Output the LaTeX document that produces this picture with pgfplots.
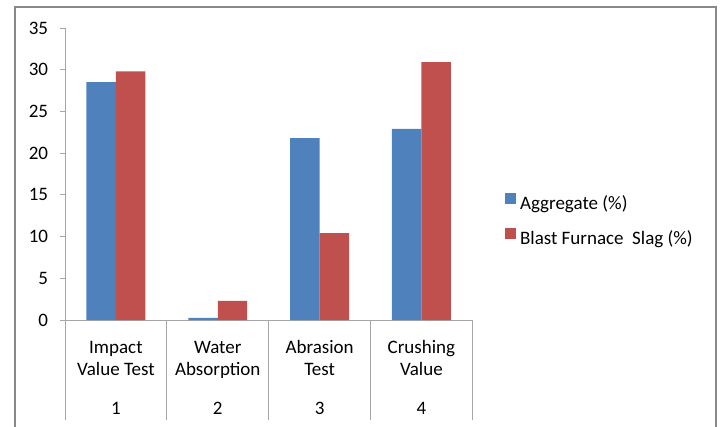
\documentclass[border=0pt]{standalone}
\usepackage{fontspec}
\setmainfont{Carlito}
\usepackage{pgfplots}
\pgfplotsset{compat=1.18}
\pgfplotsset{/pgfplots/ybar legend/.style={/pgfplots/legend image code/.code={\fill[#1] (0pt,0.5pt) rectangle (8.25pt,8.75pt);}}}
\definecolor{ablue}{HTML}{4F81BD}
\definecolor{ared}{HTML}{C0504D}
\definecolor{axgray}{HTML}{A6A6A6}
\definecolor{bordergray}{HTML}{898989}
\begin{document}
\fontsize{14.25}{16.8}\selectfont
\begin{tikzpicture}
\useasboundingbox (0,0) rectangle (540pt,319.5pt);
\draw[bordergray, line width=1.5pt] (11.25pt,-5pt) -- (11.25pt,314.25pt) -- (537pt,314.25pt) -- (537pt,-5pt);
\begin{axis}[
  at={(48.75pt,79.5pt)}, anchor=south west,
  width=305.5pt, height=219pt, scale only axis,
  xmin=0.5, xmax=4.5, ymin=0, ymax=35,
  axis lines*=left,
  axis line style={axgray, line width=0.75pt},
  ytick={0,5,...,35},
  tick align=outside,
  major tick length=3.75pt,
  ytick style={axgray, line width=0.75pt},
  xtick={1,2,3,4},
  xtick style={draw=none},
  xticklabels={{\rule{0pt}{11pt}Impact\\Value Test\\[12.4pt]1},
               {\rule{0pt}{11pt}Water\\Absorption\\[12.4pt]2},
               {\rule{0pt}{11pt}Abrasion\\Test\\[12.4pt]3},
               {\rule{0pt}{11pt}Crushing\\Value\\[12.4pt]4}},
  xticklabel style={align=center, anchor=north, yshift=-5.2pt},
  yticklabel style={xshift=-4pt},
  /pgf/number format/assume math mode=true,
  ybar=0pt, bar width=22.1pt,
  legend cell align=left,
  legend style={at={(1.081,0.434)}, anchor=north west, draw=none, fill=none,
    inner sep=0pt, outer sep=0pt, row sep=11pt, column sep=2.8pt,
    nodes={inner sep=0pt, text height=10pt, text depth=3pt}},
  clip=false,
]
\addplot[fill=ablue, draw=none] coordinates {(1,28.5) (2,0.25) (3,21.8) (4,22.9)};
\addplot[fill=ared, draw=none] coordinates {(1,29.8) (2,2.3) (3,10.4) (4,30.9)};
\legend{Aggregate (\%), Blast Furnace\ \ Slag (\%)}
\pgfplotsinvokeforeach{0.5,1.5,2.5,3.5,4.5}{
  \draw[axgray, line width=0.75pt] (axis cs:#1,0) -- ++(0pt,-75pt);
}
\end{axis}
\end{tikzpicture}
\end{document}
